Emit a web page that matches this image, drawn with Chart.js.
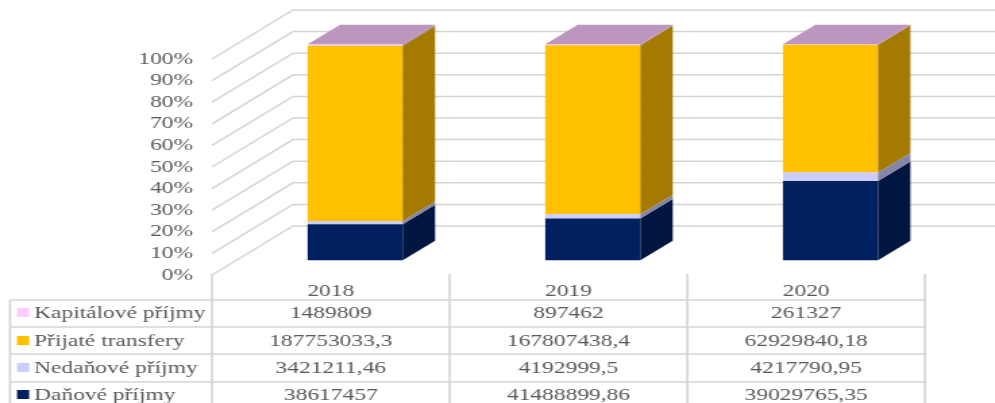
<!DOCTYPE html>
<html>
<head>
<meta charset="utf-8">
<style>
  html, body { margin: 0; padding: 0; background: #fff; overflow: hidden; width: 995px; height: 403px; }
  /* the source picture is stretched sideways and soft, text included */
  #wrap { width: 738px; height: 403px; transform: scale(1.35, 1); transform-origin: 0 0; filter: blur(0.35px); }
</style>
<script src="https://cdn.jsdelivr.net/npm/chart.js@4/dist/chart.umd.min.js"></script>
</head>
<body>
<div id="wrap"><canvas id="myChart" width="738" height="403"></canvas></div>
<script>
const years = ["2018", "2019", "2020"];
const yTicks = [0, 10, 20, 30, 40, 50, 60, 70, 80, 90, 100];

const danove = [38617457, 41488899.86, 39029765.35];
const nedanove = [3421211.46, 4192999.5, 4217790.95];
const transfery = [187753033.3, 167807438.4, 62929840.18];
const kapitalove = [1489809, 897462, 261327];

const seriesNames = ["Daňové příjmy", "Nedaňové příjmy", "Přijaté transfery", "Kapitálové příjmy"];
const seriesValues = [danove, nedanove, transfery, kapitalove];
const frontColors = ["#002060", "#ccccff", "#ffc000", "#ffccff"];
const sideColors = ["#00153f", "#8585a8", "#a47b00", "#a685a6"];
const topColor = "#bd96bf";

const STRETCH = 1.35;
const DEPTH_X = 81 / STRETCH;
const DEPTH_Y = 49;
const GRID = "#d4d4d4";
const TEXT = "#595959";
const FONT_SIZE = 17.4;
const FONT = FONT_SIZE + "px 'Liberation Serif'";

const totals = years.map((y, i) => seriesValues.reduce((sum, s) => sum + s[i], 0));
const toPercent = (values) => values.map((v, i) => (v / totals[i]) * 100);

const fakeDepth = {
  id: "fakeDepth",
  beforeDatasetsDraw(chart) {
    const { ctx, chartArea, scales } = chart;
    ctx.save();
    ctx.strokeStyle = GRID;
    ctx.lineWidth = 1.5;
    yTicks.forEach((t) => {
      const y = scales.y.getPixelForValue(t);
      ctx.beginPath();
      ctx.moveTo(chartArea.left, y);
      ctx.lineTo(chartArea.left + DEPTH_X, y - DEPTH_Y);
      ctx.lineTo(chartArea.right + DEPTH_X, y - DEPTH_Y);
      ctx.stroke();
    });
    ctx.restore();
  },
  // bars sit 30% into the floor depth
  beforeDatasetDraw(chart) {
    chart.ctx.save();
    chart.ctx.translate(DEPTH_X * 0.3, -DEPTH_Y * 0.3);
  },
  afterDatasetDraw(chart) {
    chart.ctx.restore();
  },
  afterDatasetsDraw(chart) {
    const { ctx } = chart;
    const dx = DEPTH_X * 0.4;
    const dy = DEPTH_Y * 0.4;
    ctx.save();
    ctx.translate(DEPTH_X * 0.3, -DEPTH_Y * 0.3);
    seriesValues.forEach((s, d) => {
      chart.getDatasetMeta(d).data.forEach((bar) => {
        const right = bar.x + bar.width / 2;
        ctx.fillStyle = sideColors[d];
        ctx.beginPath();
        ctx.moveTo(right, bar.y);
        ctx.lineTo(right + dx, bar.y - dy);
        ctx.lineTo(right + dx, bar.base - dy);
        ctx.lineTo(right, bar.base);
        ctx.closePath();
        ctx.fill();
        if (d === seriesValues.length - 1) {
          const left = bar.x - bar.width / 2;
          ctx.fillStyle = topColor;
          ctx.beginPath();
          ctx.moveTo(left, bar.y);
          ctx.lineTo(left + dx, bar.y - dy);
          ctx.lineTo(right + dx, bar.y - dy);
          ctx.lineTo(right, bar.y);
          ctx.closePath();
          ctx.fill();
        }
      });
    });
    ctx.restore();
  },
};

const dataTable = {
  id: "dataTable",
  afterDraw(chart) {
    const { ctx, chartArea, scales } = chart;
    const tableLeft = 10 / STRETCH;
    const rowLines = [300, 327, 354, 382, 409];
    const rowText = [313, 341, 368, 395];
    const left = chartArea.left;
    const step = (chartArea.right - chartArea.left) / years.length;

    ctx.save();
    ctx.strokeStyle = GRID;
    ctx.lineWidth = 1.6;
    for (let i = 0; i <= years.length; i++) {
      ctx.beginPath();
      ctx.moveTo(left + step * i, chartArea.bottom - 1);
      ctx.lineTo(left + step * i, 403);
      ctx.stroke();
    }
    ctx.beginPath();
    ctx.moveTo(tableLeft, rowLines[0]);
    ctx.lineTo(tableLeft, 403);
    ctx.stroke();
    rowLines.forEach((y) => {
      ctx.beginPath();
      ctx.moveTo(tableLeft, y);
      ctx.lineTo(chartArea.right, y);
      ctx.stroke();
    });

    ctx.font = FONT;
    ctx.textBaseline = "middle";
    // table rows go top-down, stack goes bottom-up
    for (let r = 0; r < seriesNames.length; r++) {
      const d = seriesNames.length - 1 - r;
      ctx.fillStyle = frontColors[d];
      ctx.fillRect(17 / STRETCH, rowText[r] - 5, 9, 9);
      ctx.fillStyle = TEXT;
      ctx.textAlign = "left";
      ctx.fillText(seriesNames[d], 34 / STRETCH, rowText[r]);
      ctx.textAlign = "center";
      seriesValues[d].forEach((v, i) => {
        ctx.fillText(String(v).replace(".", ","), scales.x.getPixelForValue(i), rowText[r]);
      });
    }
    ctx.restore();
  },
};

new Chart(document.getElementById("myChart"), {
  type: "bar",
  data: {
    labels: years,
    datasets: seriesNames.map((name, d) => ({
      label: name,
      data: toPercent(seriesValues[d]),
      backgroundColor: frontColors[d],
      borderWidth: 0,
      barPercentage: 0.4,
      categoryPercentage: 1,
      clip: false,
    })),
  },
  options: {
    responsive: false,
    animation: false,
    layout: {
      padding: { left: 0, right: 738 - 925 / STRETCH, top: 59, bottom: 0 },
    },
    plugins: {
      legend: { display: false },
      tooltip: { enabled: false },
    },
    scales: {
      x: {
        stacked: true,
        afterFit: (axis) => { axis.height = 128; },
        border: { display: false },
        grid: { display: false, drawTicks: false },
        ticks: {
          color: TEXT,
          padding: 6,
          maxRotation: 0,
          font: { family: "'Liberation Serif'", size: FONT_SIZE },
        },
      },
      y: {
        stacked: true,
        min: 0,
        max: 100,
        afterFit: (axis) => { axis.width = 212 / STRETCH; },
        afterBuildTicks: (axis) => { axis.ticks = yTicks.map((value) => ({ value })); },
        border: { display: false },
        grid: { display: false, drawTicks: false },
        ticks: {
          color: TEXT,
          padding: 14,
          autoSkip: false,
          callback: (v) => v + "%",
          font: { family: "'Liberation Serif'", size: FONT_SIZE },
        },
      },
    },
  },
  plugins: [fakeDepth, dataTable],
});
</script>
</body>
</html>
